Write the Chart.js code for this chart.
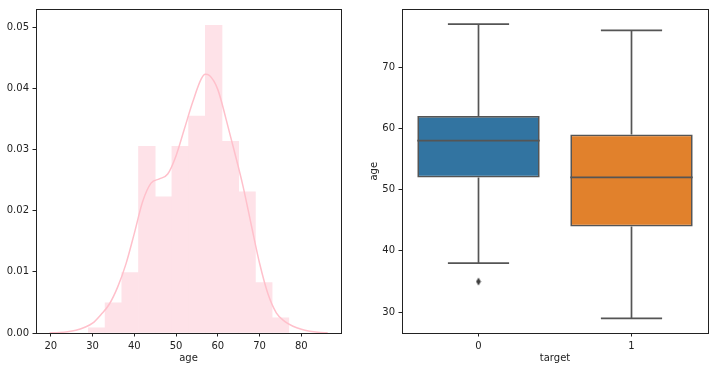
<!DOCTYPE html>
<html><head><meta charset="utf-8">
<script src="https://cdn.jsdelivr.net/npm/chart.js@4.4.0/dist/chart.umd.min.js"></script>
<style>
html,body{margin:0;padding:0;background:#fff;width:713px;height:371px;overflow:hidden}
#c1{position:absolute;left:0;top:0}
#c2{position:absolute;left:356px;top:0}
</style></head><body>
<canvas id="c1" width="356" height="371"></canvas>
<canvas id="c2" width="357" height="371"></canvas>
<script>
// ---------- Left panel: age distribution ----------
const binEdges = [29,33,37,41,45,49,53,57,61,65,69,73,77];
const binDensity = [0.00083,0.00495,0.0099,0.03053,0.02228,0.03053,0.03548,0.05033,0.03135,0.0231,0.00825,0.00248];
const kdeX = [19.7,22,24,26,28,30,32,34,36,38,40,42,44,46,48,50,52,54,56,57,58,60,62,64,66,68,70,72,74,76,78,80,82,84,86.3];
const kdeY = [0.00002,0.00008,0.0002,0.00045,0.0009,0.0016,0.003,0.0047,0.0075,0.0113,0.0163,0.0215,0.0245,0.0252,0.026,0.029,0.0334,0.0378,0.0415,0.0423,0.0421,0.0398,0.0349,0.0296,0.0241,0.0177,0.0114,0.0064,0.0033,0.0019,0.0011,0.0006,0.0003,0.00012,0.00003];
const histXTicks = [20,30,40,50,60,70,80];
const histYTicks = [0,0.01,0.02,0.03,0.04,0.05];
const histXLabel = 'age';

// ---------- Right panel: age by target ----------
const groups = ['0','1'];
const boxMin = [38,29];
const boxQ1 = [52,44];
const boxMed = [58,52];
const boxQ3 = [62,59];
const boxMax = [77,76];
const boxOutliers = [[35],[]];
const boxColors = ['#3274a1','#e1812c'];
const boxYTicks = [30,40,50,60,70];
const boxXLabel = 'target';
const boxYLabel = 'age';

Chart.defaults.font.family = "'DejaVu Sans', sans-serif";
Chart.defaults.font.size = 10;
Chart.defaults.color = '#222';
Chart.defaults.animation = false;

const INK = '#222';
const frame = {
  id: 'frame',
  afterDraw(chart) {
    const {ctx, chartArea: a} = chart;
    ctx.save();
    ctx.strokeStyle = INK;
    ctx.lineWidth = 1;
    ctx.strokeRect(Math.floor(a.left) + 0.5, Math.floor(a.top) + 0.5,
                   Math.round(a.right - a.left), Math.round(a.bottom - a.top));
    ctx.restore();
  }
};

function axisBase(tickVals, fmt, fixed, horizontal) {
  return {
    offset: false,
    grid: {display: true, drawOnChartArea: false, drawTicks: true, tickLength: 3.5, tickColor: INK, tickWidth: 1, offset: false},
    border: {display: false},
    ticks: {padding: 3.5, color: INK, callback: fmt, maxRotation: 0, autoSkip: false},
    afterBuildTicks: (s) => { s.ticks = tickVals.map(v => ({value: v})); },
    afterFit: (s) => { if (horizontal) s.height = fixed; else s.width = fixed; }
  };
}

// Left chart
const binCenters = binEdges.slice(0, -1).map((e, i) => (e + binEdges[i + 1]) / 2);
new Chart(document.getElementById('c1'), {
  type: 'bar',
  data: {
    datasets: [
      {
        type: 'line',
        data: kdeX.map((x, i) => ({x, y: kdeY[i]})),
        borderColor: '#ffc0cb',
        borderWidth: 1.5,
        pointRadius: 0,
        cubicInterpolationMode: 'monotone',
        fill: false,
        order: 0
      },
      {
        type: 'bar',
        data: binCenters.map((x, i) => ({x, y: binDensity[i]})),
        backgroundColor: '#fee2e8',
        borderWidth: 0,
        barPercentage: 1,
        categoryPercentage: 1,
        order: 1
      }
    ]
  },
  plugins: [frame],
  options: {
    responsive: false,
    devicePixelRatio: 1,
    layout: {padding: {top: 7, right: 15, left: 0, bottom: 0}},
    plugins: {legend: {display: false}, tooltip: {enabled: false}},
    scales: {
      x: Object.assign(axisBase(histXTicks, v => String(v), 38, true), {
        type: 'linear', min: 16.45, max: 89.5,
        title: {display: true, text: histXLabel, color: INK, padding: {top: 0, bottom: 7}}
      }),
      y: Object.assign(axisBase(histYTicks, v => v.toFixed(2), 36, false), {
        type: 'linear', min: 0, max: 0.0529
      })
    }
  }
});

// Right chart
const lineSegs = [];
groups.forEach((g, i) => {
  lineSegs.push({x: i - 0.4, y: boxMed[i]}, {x: i + 0.4, y: boxMed[i]}, {x: i, y: null});
  lineSegs.push({x: i, y: boxQ3[i]}, {x: i, y: boxMax[i]}, {x: i, y: null});
  lineSegs.push({x: i, y: boxQ1[i]}, {x: i, y: boxMin[i]}, {x: i, y: null});
  lineSegs.push({x: i - 0.2, y: boxMax[i]}, {x: i + 0.2, y: boxMax[i]}, {x: i, y: null});
  lineSegs.push({x: i - 0.2, y: boxMin[i]}, {x: i + 0.2, y: boxMin[i]}, {x: i, y: null});
});
const outPts = [];
boxOutliers.forEach((arr, i) => arr.forEach(v => outPts.push({x: i, y: v})));

// thin diamond marker (matplotlib 'd')
const diamond = document.createElement('canvas');
diamond.width = 6; diamond.height = 9;
(function () {
  const c = diamond.getContext('2d');
  c.fillStyle = '#3f3f3f';
  c.beginPath();
  c.moveTo(3, 0.6); c.lineTo(5.4, 4.5); c.lineTo(3, 8.4); c.lineTo(0.6, 4.5);
  c.closePath(); c.fill();
})();

const LINE = '#555555';
new Chart(document.getElementById('c2'), {
  type: 'bar',
  data: {
    datasets: [
      {
        type: 'line',
        data: lineSegs,
        borderColor: LINE,
        borderWidth: 1.7,
        pointRadius: 0,
        spanGaps: false,
        fill: false,
        tension: 0,
        order: 0
      },
      {
        type: 'scatter',
        data: outPts,
        pointStyle: diamond,
        pointRadius: 4,
        order: 0
      },
      {
        type: 'bar',
        data: groups.map((g, i) => ({x: i, y: [boxQ1[i], boxQ3[i]]})),
        backgroundColor: boxColors,
        borderColor: LINE,
        borderWidth: 1.7,
        borderSkipped: false,
        barPercentage: 0.8,
        categoryPercentage: 1,
        order: 1
      }
    ]
  },
  plugins: [frame],
  options: {
    responsive: false,
    devicePixelRatio: 1,
    layout: {padding: {top: 7, right: 5, left: 0, bottom: 0}},
    plugins: {legend: {display: false}, tooltip: {enabled: false}},
    scales: {
      x: Object.assign(axisBase([0, 1], v => groups[v], 38, true), {
        type: 'linear', min: -0.5, max: 1.5,
        title: {display: true, text: boxXLabel, color: INK, padding: {top: 0, bottom: 7}}
      }),
      y: Object.assign(axisBase(boxYTicks, v => String(v), 46, false), {
        type: 'linear', min: 26.6, max: 79.4,
        title: {display: true, text: boxYLabel, color: INK, padding: {top: 12, bottom: 0}}
      })
    }
  }
});
</script>
</body></html>
